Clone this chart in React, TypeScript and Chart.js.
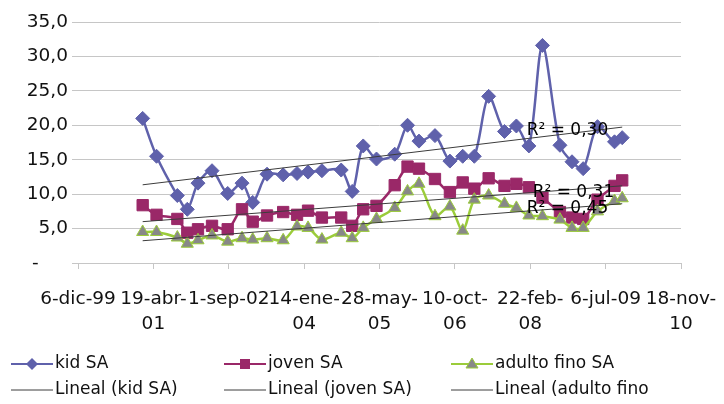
import React, { useEffect, useRef } from 'react';
import { Chart, registerables } from 'chart.js';

Chart.register(...registerables);

// Fechas de muestreo (número de serie de fecha de Excel)
const fechas = [
  36929, 37021, 37159, 37225, 37296, 37389, 37493, 37588, 37659, 37754,
  37861, 37953, 38026, 38118, 38246, 38319, 38392, 38480, 38601, 38686,
  38762, 38868, 38967, 39052, 39129, 39224, 39329, 39408, 39491, 39581,
  39697, 39777, 39851, 39946, 40059, 40110,
];

const kidSA = [
  21.0, 15.5, 9.8, 7.8, 11.6, 13.4, 10.1, 11.6, 8.8, 12.9,
  12.8, 13.0, 13.2, 13.4, 13.5, 10.4, 17.0, 15.1, 15.8, 20.0,
  17.7, 18.5, 14.8, 15.5, 15.5, 24.2, 19.1, 19.9, 17.0, 31.6,
  17.1, 14.7, 13.7, 19.8, 17.6, 18.2,
];

const jovenSA = [
  8.4, 7.0, 6.4, 4.4, 4.9, 5.4, 4.9, 7.8, 6.0, 6.9,
  7.4, 7.0, 7.6, 6.6, 6.6, 5.4, 7.8, 8.3, 11.3, 14.0,
  13.7, 12.2, 10.3, 11.7, 10.8, 12.3, 11.2, 11.5, 11.0, 9.5,
  7.4, 6.6, 6.4, 9.2, 11.2, 12.0,
];

const adultoFinoSA = [
  4.5, 4.5, 3.7, 2.8, 3.3, 4.0, 3.1, 3.6, 3.4, 3.6,
  3.3, 5.3, 5.1, 3.4, 4.4, 3.6, 5.1, 6.4, 8.0, 10.4,
  11.5, 6.8, 8.2, 4.7, 9.2, 9.8, 8.6, 8.0, 6.9, 6.8,
  6.3, 5.1, 5.1, 7.5, 9.0, 9.4,
];

const xTickValues = [36500, 37000, 37500, 38000, 38500, 39000, 39500, 40000, 40500];
const xTickLabels = [
  ['6-dic-99'], ['19-abr-', '01'], ['1-sep-02'], ['14-ene-', '04'], ['28-may-', '05'],
  ['10-oct-', '06'], ['22-feb-', '08'], ['6-jul-09'], ['18-nov-', '10'],
];
const yTickLabels = ['-', '5,0', '10,0', '15,0', '20,0', '25,0', '30,0', '35,0'];

const seriesNames = ['kid SA', 'joven SA', 'adulto fino SA'];
const trendNames = ['Lineal (kid SA)', 'Lineal (joven SA)', 'Lineal (adulto fino'];
const r2Labels = ['R² = 0,30', 'R² = 0,31', 'R² = 0,45'];

const KID = '#5f61ab';
const JOVEN = '#9a2868';
const ADULTO_LINE = '#9bcc3a';
const ADULTO_MARK = '#888888';
const TREND = '#3c3c3c';
const GRID = '#c6c6c6';
const FONT = 'DejaVu Sans';

function linReg(xs: number[], ys: number[]) {
  const n = xs.length;
  const mx = xs.reduce((a, b) => a + b, 0) / n;
  const my = ys.reduce((a, b) => a + b, 0) / n;
  let sxy = 0, sxx = 0;
  for (let i = 0; i < n; i++) {
    sxy += (xs[i] - mx) * (ys[i] - my);
    sxx += (xs[i] - mx) * (xs[i] - mx);
  }
  const b = sxy / sxx;
  const a = my - b * mx;
  return [
    { x: xs[0], y: a + b * xs[0] },
    { x: xs[n - 1], y: a + b * xs[n - 1] },
  ];
}

const pts = (ys: number[]) => fechas.map((x, i) => ({ x, y: ys[i] }));

function drawMarker(ctx: CanvasRenderingContext2D, kind: string, x: number, y: number) {
  ctx.save();
  ctx.beginPath();
  if (kind === 'diamond') {
    ctx.fillStyle = KID;
    ctx.moveTo(x, y - 6); ctx.lineTo(x + 6, y); ctx.lineTo(x, y + 6); ctx.lineTo(x - 6, y);
    ctx.closePath(); ctx.fill();
  } else if (kind === 'square') {
    ctx.fillStyle = JOVEN;
    ctx.fillRect(x - 5, y - 5, 10, 10);
  } else {
    ctx.fillStyle = ADULTO_MARK;
    ctx.strokeStyle = ADULTO_LINE;
    ctx.lineWidth = 1;
    ctx.moveTo(x, y - 6); ctx.lineTo(x + 6, y + 4); ctx.lineTo(x - 6, y + 4);
    ctx.closePath(); ctx.fill(); ctx.stroke();
  }
  ctx.restore();
}

const legendPlugin = {
  id: 'customLegend',
  afterDraw(chart: any) {
    const ctx: CanvasRenderingContext2D = chart.ctx;
    const starts = [11, 224, 451];
    const colors = [KID, JOVEN, ADULTO_LINE];
    const kinds = ['diamond', 'square', 'triangle'];
    ctx.save();
    ctx.font = `17px "${FONT}"`;
    ctx.textBaseline = 'middle';
    ctx.textAlign = 'left';
    for (let i = 0; i < 3; i++) {
      const x0 = starts[i];
      const y1 = 364;
      ctx.strokeStyle = colors[i];
      ctx.lineWidth = 2;
      ctx.beginPath(); ctx.moveTo(x0, y1); ctx.lineTo(x0 + 42, y1); ctx.stroke();
      drawMarker(ctx, kinds[i], x0 + 21, y1);
      ctx.fillStyle = '#111';
      ctx.fillText(seriesNames[i], x0 + 44, y1);
      const y2 = 390;
      ctx.strokeStyle = TREND;
      ctx.lineWidth = 1;
      ctx.beginPath(); ctx.moveTo(x0, y2); ctx.lineTo(x0 + 42, y2); ctx.stroke();
      ctx.fillText(trendNames[i], x0 + 44, y2);
    }
    ctx.restore();
  },
};

const r2Plugin = {
  id: 'r2Labels',
  afterDatasetsDraw(chart: any) {
    const ctx: CanvasRenderingContext2D = chart.ctx;
    const xs = chart.scales.x;
    const ys = chart.scales.y;
    const offsets = [[-14, 3], [-8, 7], [-14, 5]];
    ctx.save();
    ctx.font = `17px "${FONT}"`;
    ctx.textAlign = 'right';
    ctx.textBaseline = 'middle';
    ctx.fillStyle = '#000';
    for (let i = 0; i < 3; i++) {
      const d = chart.data.datasets[i].data as { x: number; y: number }[];
      const end = d[d.length - 1];
      const px = xs.getPixelForValue(end.x) + offsets[i][0];
      const py = ys.getPixelForValue(end.y) + offsets[i][1];
      ctx.fillText(r2Labels[i], px, py);
    }
    ctx.restore();
  },
};

export default function App() {
  const ref = useRef<HTMLCanvasElement>(null);

  useEffect(() => {
    const trendStyle = {
      borderColor: TREND,
      borderWidth: 1,
      pointRadius: 0,
      showLine: true,
      tension: 0,
      fill: false,
    };
    const chart = new Chart(ref.current as HTMLCanvasElement, {
      type: 'scatter',
      data: {
        datasets: [
          { label: trendNames[0], data: linReg(fechas, kidSA), order: 0, ...trendStyle },
          { label: trendNames[1], data: linReg(fechas, jovenSA), order: 0, ...trendStyle },
          { label: trendNames[2], data: linReg(fechas, adultoFinoSA), order: 0, ...trendStyle },
          {
            label: seriesNames[2], data: pts(adultoFinoSA), order: 1, showLine: true, tension: 0.3,
            borderColor: ADULTO_LINE, borderWidth: 2.5, pointStyle: 'triangle', pointRadius: 7,
            pointBackgroundColor: ADULTO_MARK, pointBorderColor: ADULTO_LINE, pointBorderWidth: 1,
          },
          {
            label: seriesNames[1], data: pts(jovenSA), order: 2, showLine: true, tension: 0.3,
            borderColor: JOVEN, borderWidth: 2.5, pointStyle: 'rect', pointRadius: 8,
            pointBackgroundColor: JOVEN, pointBorderColor: JOVEN, pointBorderWidth: 1,
          },
          {
            label: seriesNames[0], data: pts(kidSA), order: 3, showLine: true, tension: 0.3,
            borderColor: KID, borderWidth: 2.5, pointStyle: 'rectRot', pointRadius: 7,
            pointBackgroundColor: KID, pointBorderColor: KID, pointBorderWidth: 1,
          },
        ],
      },
      options: {
        animation: false,
        responsive: false,
        maintainAspectRatio: false,
        devicePixelRatio: 1,
        layout: { padding: { left: 0, right: 43, top: 22, bottom: 61 } },
        plugins: { legend: { display: false }, tooltip: { enabled: false } },
        scales: {
          x: {
            type: 'linear',
            min: 36500,
            max: 40500,
            afterFit: (s: any) => { s.height = 80; s.paddingRight = 0; s.paddingLeft = 0; },
            afterBuildTicks: (s: any) => { s.ticks = xTickValues.map((v) => ({ value: v })); },
            ticks: {
              autoSkip: false,
              maxRotation: 0,
              minRotation: 0,
              padding: 18,
              color: '#111',
              font: { family: FONT, size: 18.5, lineHeight: 1.35 },
              callback: (v: any) => {
                const i = xTickValues.indexOf(Number(v));
                return i >= 0 ? xTickLabels[i] : '';
              },
            },
            grid: { drawOnChartArea: false, drawTicks: true, tickLength: 6, color: GRID },
            border: { display: true, color: GRID },
          },
          y: {
            min: 0,
            max: 35,
            afterFit: (s: any) => { s.width = 78; s.paddingTop = 0; },
            ticks: {
              stepSize: 5,
              padding: 4,
              color: '#111',
              font: { family: FONT, size: 18.5 },
              callback: (v: any) => {
                const i = Math.round(Number(v) / 5);
                return i === 0 ? yTickLabels[0] + '\u2007\u2007 ' : yTickLabels[i];
              },
            },
            grid: { color: GRID, tickLength: 6 },
            border: { display: false },
          },
        },
      },
      plugins: [r2Plugin, legendPlugin],
    } as any);
    return () => chart.destroy();
  }, []);

  return (
    <div style={{ position: 'absolute', left: 0, top: 0, width: 724, height: 404, background: '#fff' }}>
      <canvas ref={ref} width={724} height={404} style={{ width: 724, height: 404, display: 'block' }} />
    </div>
  );
}
